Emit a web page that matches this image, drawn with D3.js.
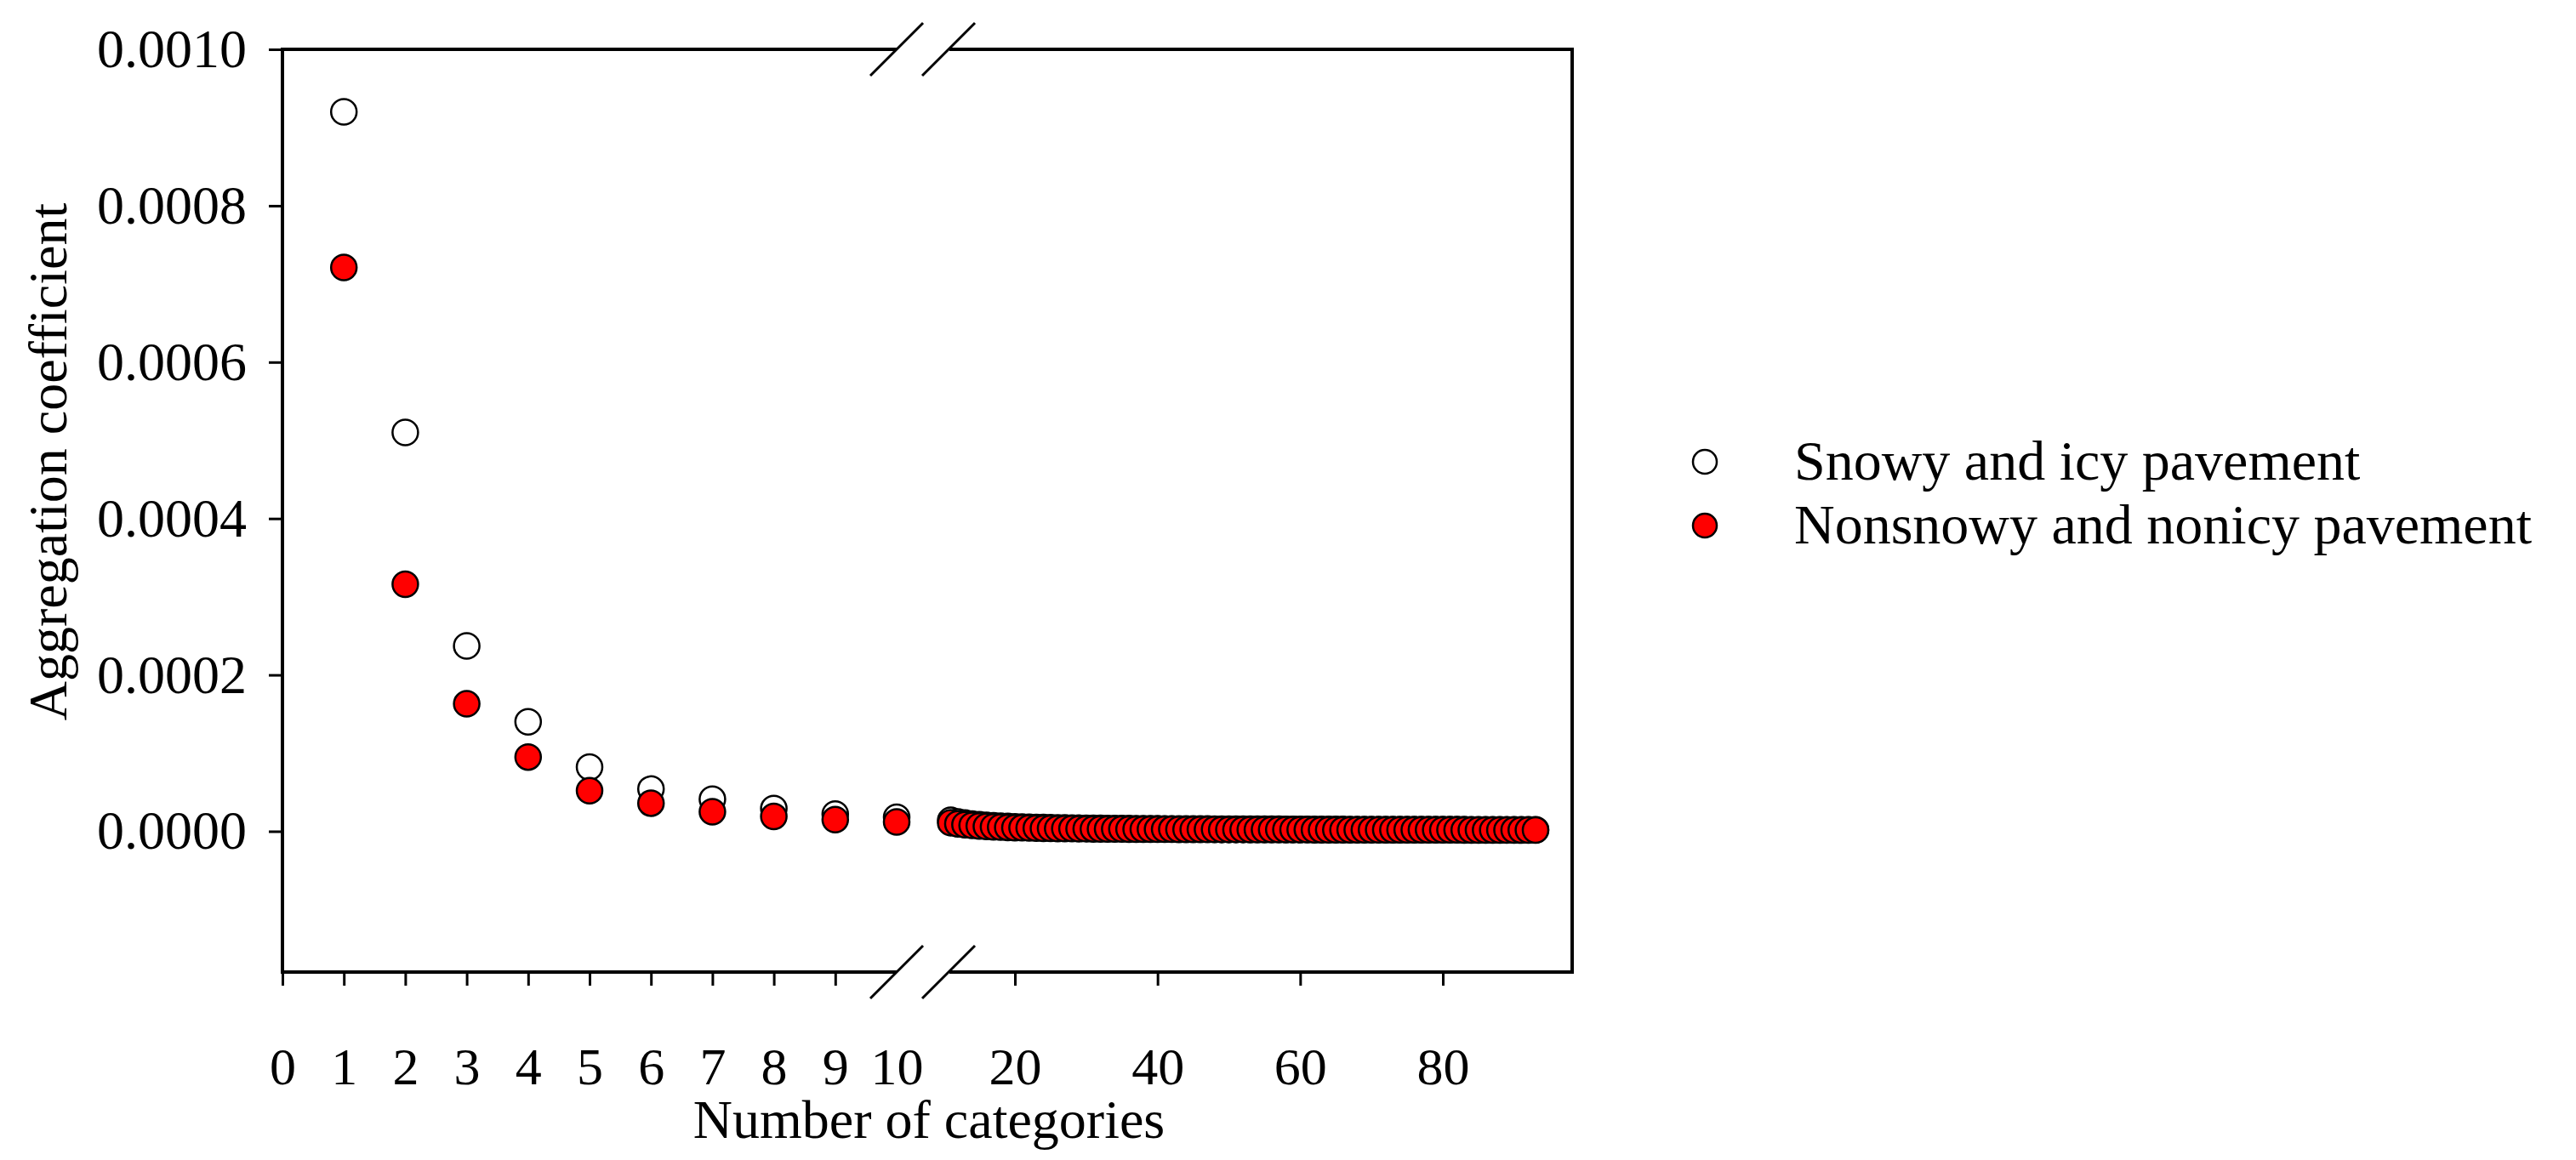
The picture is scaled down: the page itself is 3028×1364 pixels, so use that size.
<!DOCTYPE html>
<html>
<head>
<meta charset="utf-8">
<script src="https://cdn.jsdelivr.net/npm/d3@7"></script>
<style>
 body { margin: 0; background: #fff; }
 text { font-family: "Liberation Serif", "DejaVu Serif", serif; fill: #000; }
</style>
</head>
<body>
<svg id="chart" width="3028" height="1364"></svg>
<script>
// categories 1..10 (left segment) and 11..93 (right segment, after the break)
var catsLeft = [1, 2, 3, 4, 5, 6, 7, 8, 9, 10];
var snowyLeft = [0.000920, 0.000510, 0.000237, 0.000140, 0.000082, 0.000054, 0.000041, 0.000029, 0.000022, 0.000018];
var dryLeft   = [0.000721, 0.000316, 0.000163, 0.000095, 0.000052, 0.000036, 0.000025, 0.000019, 0.000015, 0.000012];

var catsRight = d3.range(11, 94);
// right segment values in units of 1e-6
var snowyRightE6 = [14, 12, 10.5, 9.3, 8.4, 7.7, 7.1, 6.6, 6.2, 5.8, 5.5, 5.2, 5.0, 4.8, 4.6, 4.4, 4.3, 4.1, 4.0, 3.9,
 3.8, 3.7, 3.6, 3.5, 3.5, 3.4, 3.3, 3.3, 3.2, 3.2,
 3.1, 3.1, 3.0, 3.0, 2.9, 2.9, 2.9, 2.8, 2.8, 2.8,
 2.7, 2.7, 2.7, 2.6, 2.6, 2.6, 2.6, 2.5, 2.5, 2.5,
 2.5, 2.4, 2.4, 2.4, 2.4, 2.4, 2.3, 2.3, 2.3, 2.3,
 2.3, 2.2, 2.2, 2.2, 2.2, 2.2, 2.2, 2.1, 2.1, 2.1,
 2.1, 2.1, 2.1, 2.0, 2.0, 2.0, 2.0, 2.0, 2.0, 2.0,
 2.0, 2.0, 2.0];
var dryRightE6 = [11, 9.5, 8.4, 7.5, 6.8, 6.2, 5.8, 5.4, 5.0, 4.7, 4.5, 4.3, 4.1, 3.9, 3.7, 3.6, 3.5, 3.4, 3.3, 3.2,
 3.1, 3.0, 3.0, 2.9, 2.9, 2.8, 2.8, 2.7, 2.7, 2.6,
 2.6, 2.6, 2.5, 2.5, 2.5, 2.4, 2.4, 2.4, 2.3, 2.3,
 2.3, 2.3, 2.2, 2.2, 2.2, 2.2, 2.1, 2.1, 2.1, 2.1,
 2.1, 2.0, 2.0, 2.0, 2.0, 2.0, 2.0, 1.9, 1.9, 1.9,
 1.9, 1.9, 1.9, 1.9, 1.8, 1.8, 1.8, 1.8, 1.8, 1.8,
 1.8, 1.8, 1.7, 1.7, 1.7, 1.7, 1.7, 1.7, 1.7, 1.6,
 1.6, 1.6, 1.6];

var xTicksLeft = [0, 1, 2, 3, 4, 5, 6, 7, 8, 9, 10];
var xTicksRight = [20, 40, 60, 80];
var yTicks = [0, 0.0002, 0.0004, 0.0006, 0.0008, 0.0010];
var seriesNames = ["Snowy and icy pavement", "Nonsnowy and nonicy pavement"];

var L = 332, R = 1848, T = 58, B = 1143;
var breakA = 1054, breakB = 1116;

var svg = d3.select("#chart");
var y = d3.scaleLinear().domain([-0.00018, 0.001]).range([B, T]);
var xl = d3.scaleLinear().domain([0, 10]).range([L, 1054]);
var xr = d3.scaleLinear().domain([20, 80]).range([1193, 1696]);

function xOf(c) { return c <= 10 ? xl(c) : xr(c); }

// frame with break gaps on top and bottom
var frame = svg.append("g").attr("stroke", "#000").attr("stroke-width", 4).attr("fill", "none");
frame.append("line").attr("x1", L).attr("x2", L).attr("y1", T).attr("y2", B);
frame.append("line").attr("x1", R).attr("x2", R).attr("y1", T).attr("y2", B);
[T, B].forEach(function(yy) {
 frame.append("line").attr("x1", L - 2).attr("x2", breakA).attr("y1", yy).attr("y2", yy);
 frame.append("line").attr("x1", breakB).attr("x2", R + 2).attr("y1", yy).attr("y2", yy);
 [1023, 1084].forEach(function(x0) {
  frame.append("line").attr("x1", x0).attr("y1", yy + 31).attr("x2", x0 + 62).attr("y2", yy - 31).attr("stroke-width", 3);
 });
});

// y axis
var yAxis = d3.axisLeft(y).tickValues(yTicks).tickFormat(d3.format(".4f")).tickSize(16).tickPadding(26);
svg.append("g").attr("transform", "translate(" + L + ",0)").call(yAxis)
 .call(function(g) { g.select(".domain").remove(); })
 .call(function(g) { g.selectAll("line").attr("stroke-width", 3); })
 .call(function(g) { g.selectAll("text").attr("font-size", 64).attr("font-family", "Liberation Serif"); });

// x axes (two segments)
function styleX(g) {
 g.select(".domain").remove();
 g.selectAll("line").attr("stroke-width", 3);
 g.selectAll("text").attr("font-size", 62).attr("font-family", "Liberation Serif");
}
svg.append("g").attr("transform", "translate(0," + B + ")")
 .call(d3.axisBottom(xl).tickValues(xTicksLeft.slice(0, 10)).tickSize(16).tickPadding(72)).call(styleX);
svg.append("g").attr("transform", "translate(0," + B + ")")
 .call(d3.axisBottom(xl).tickValues([10]).tickSize(0).tickPadding(88)).call(styleX);
svg.append("g").attr("transform", "translate(0," + B + ")")
 .call(d3.axisBottom(xr).tickValues(xTicksRight).tickSize(16).tickPadding(72)).call(styleX);

// titles
svg.append("text").attr("x", 1092).attr("y", 1338).attr("text-anchor", "middle")
 .attr("font-size", 64).text("Number of categories");
svg.append("text").attr("transform", "translate(78,543) rotate(-90)").attr("text-anchor", "middle")
 .attr("font-size", 64).text("Aggregation coefficient");

// points
var snowy = catsLeft.map(function(c, i) { return { c: c, v: snowyLeft[i] }; })
 .concat(catsRight.map(function(c, i) { return { c: c, v: snowyRightE6[i] * 1e-6 }; }));
var dry = catsLeft.map(function(c, i) { return { c: c, v: dryLeft[i] }; })
 .concat(catsRight.map(function(c, i) { return { c: c, v: dryRightE6[i] * 1e-6 }; }));

svg.append("g").selectAll("circle").data(snowy).join("circle")
 .attr("cx", function(d) { return xOf(d.c); }).attr("cy", function(d) { return y(d.v); })
 .attr("r", 15).attr("fill", "#fff").attr("stroke", "#000").attr("stroke-width", 2.5);
svg.append("g").selectAll("circle").data(dry).join("circle")
 .attr("cx", function(d) { return xOf(d.c); }).attr("cy", function(d) { return y(d.v); })
 .attr("r", 15).attr("fill", "#ff0000").attr("stroke", "#000").attr("stroke-width", 2.5);

// legend
var leg = svg.append("g");
seriesNames.forEach(function(name, i) {
 var yy = 543 + i * 75;
 leg.append("circle").attr("cx", 2004).attr("cy", yy).attr("r", 14)
  .attr("fill", i === 0 ? "#fff" : "#ff0000").attr("stroke", "#000").attr("stroke-width", 2.5);
 leg.append("text").attr("x", 2109).attr("y", yy + 21).attr("font-size", 66).text(name);
});
</script>
</body>
</html>
